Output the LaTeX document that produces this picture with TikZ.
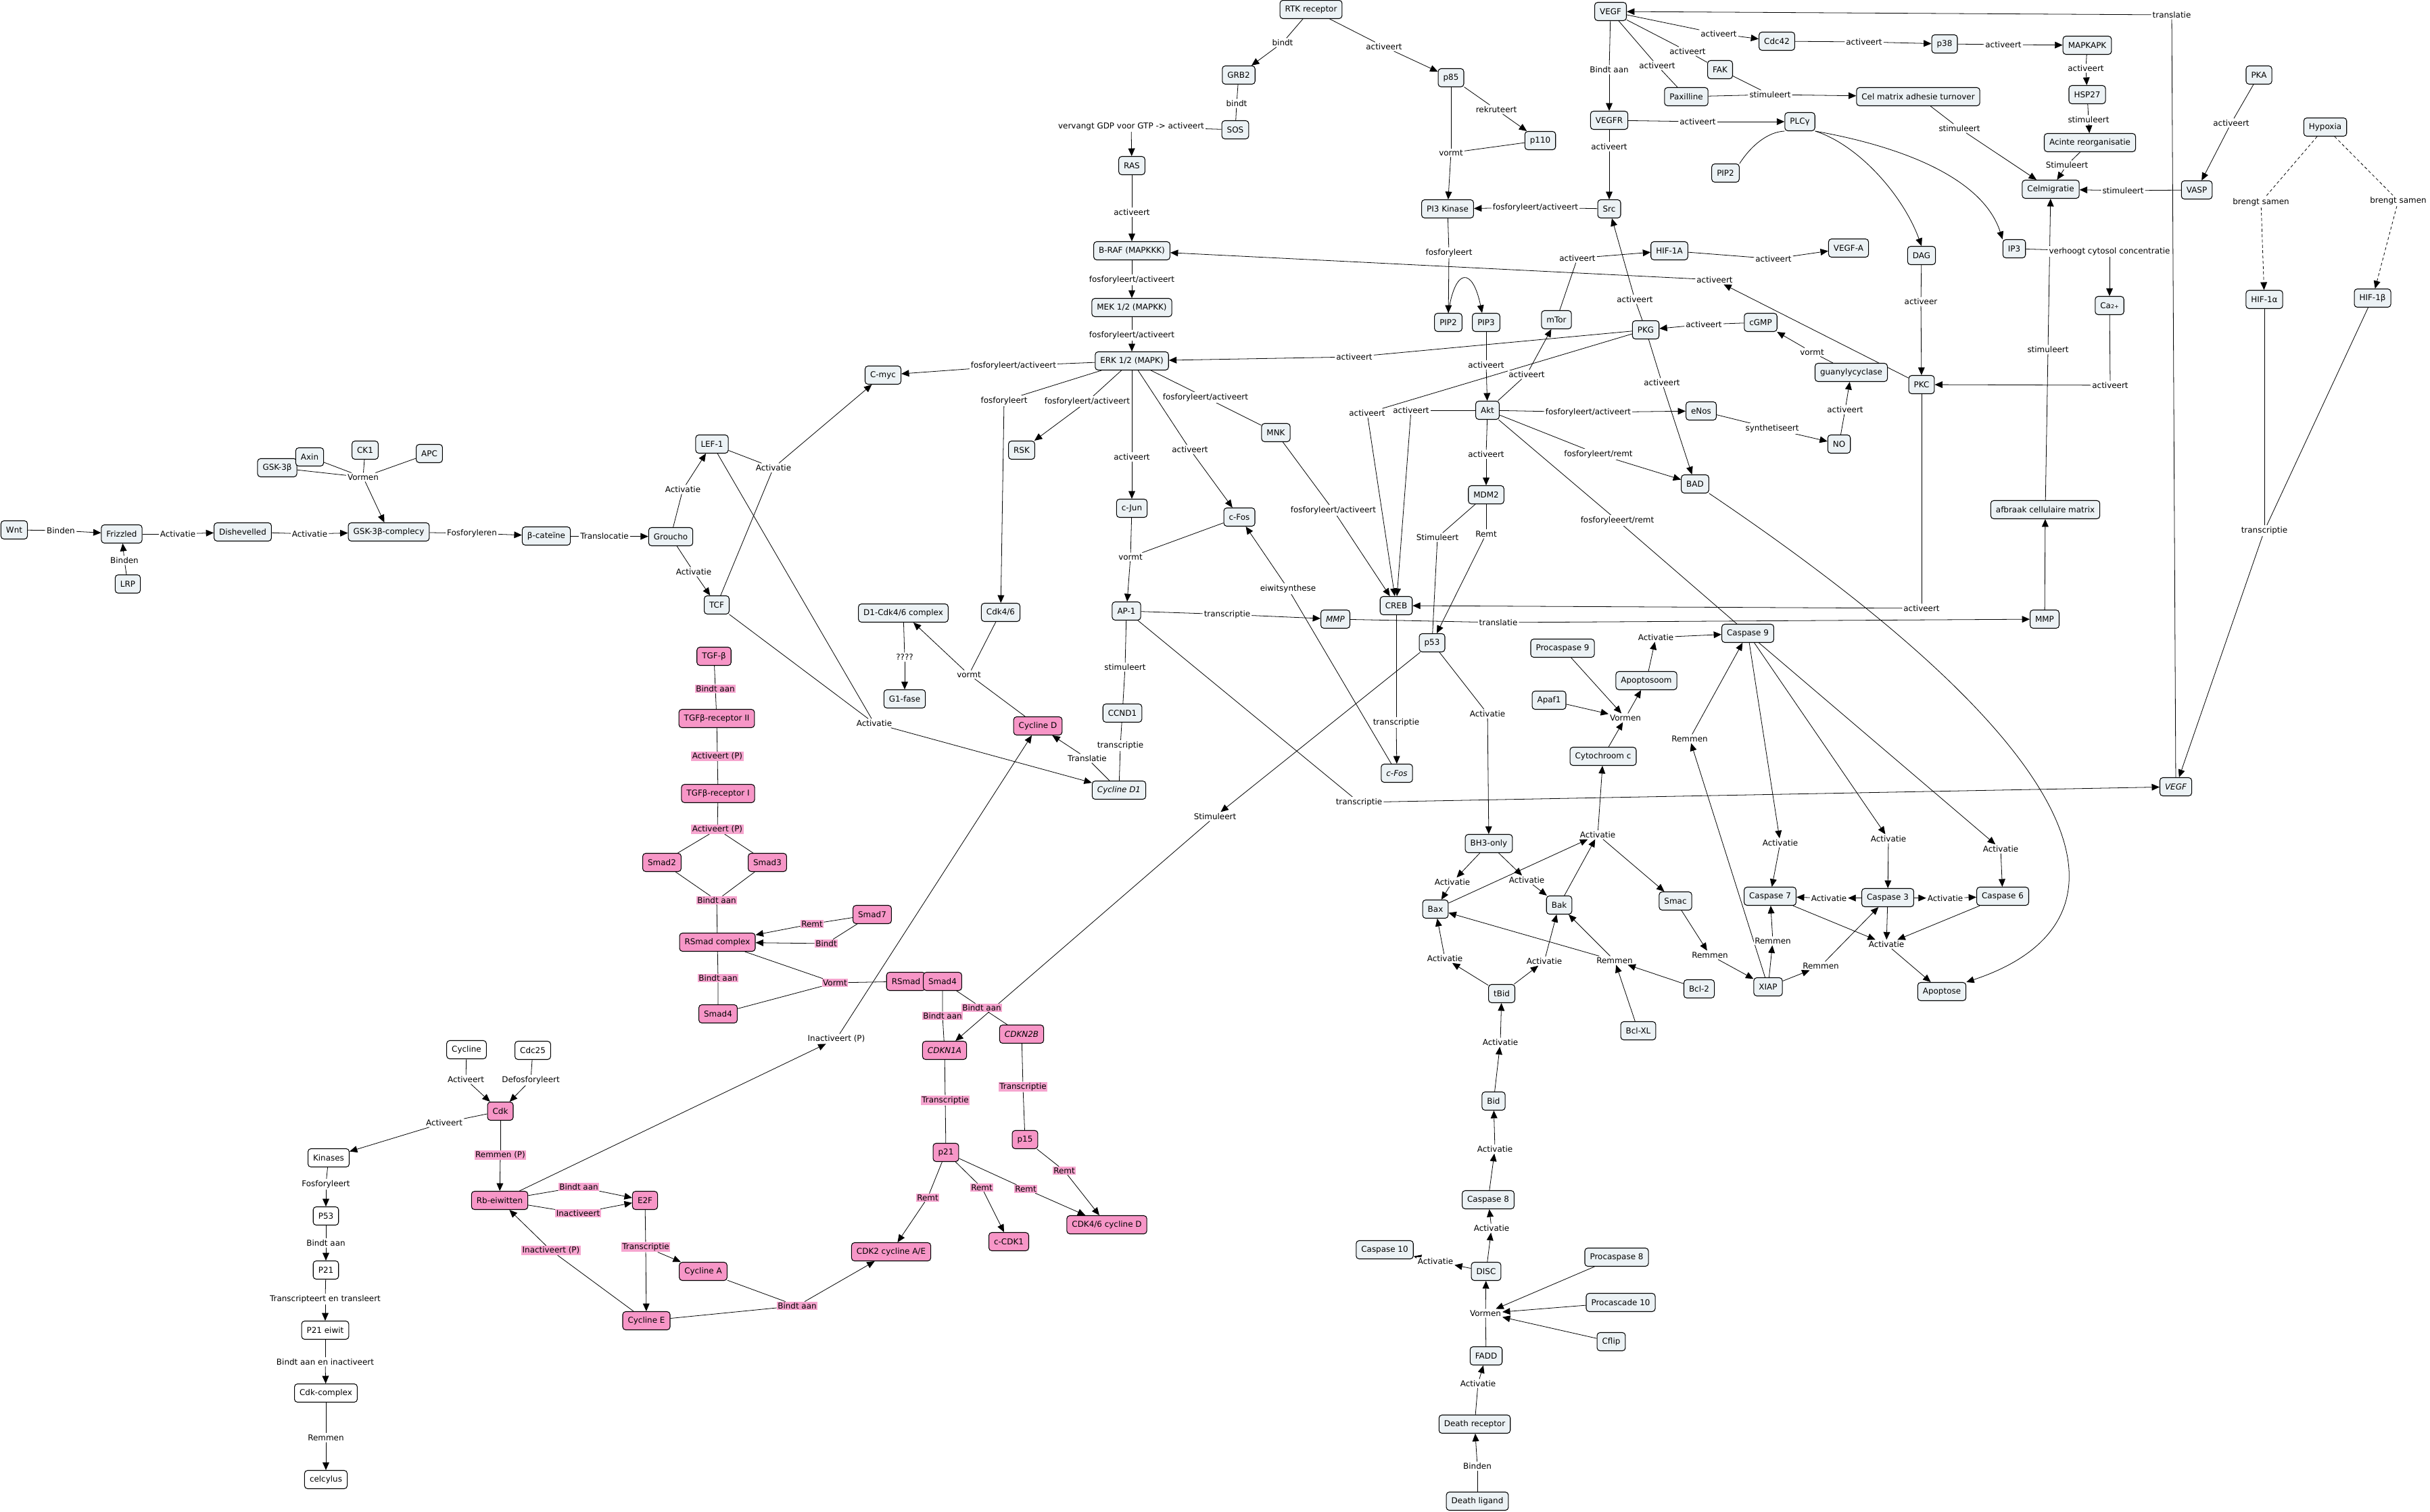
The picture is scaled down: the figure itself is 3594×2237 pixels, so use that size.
\documentclass[tikz,border=0pt]{standalone}
\usepackage{fontspec}
\setmainfont{DejaVu Sans}
\usetikzlibrary{arrows.meta, backgrounds}
\definecolor{conceptfill}{RGB}{236,242,245}
\definecolor{pinkfill}{RGB}{247,150,199}
\definecolor{pinklabel}{RGB}{246,165,207}
\begin{document}
\begin{tikzpicture}[
  x=0.02cm, y=-0.02cm,
  font=\fontsize{6.8}{8}\selectfont,
  cbox/.style={draw, line width=0.6pt, rounded corners=2.5pt, fill=conceptfill, minimum height=0.54cm, inner xsep=4.3pt, inner ysep=2pt},
  pbox/.style={cbox, fill=pinkfill},
  wbox/.style={cbox, fill=white},
  lbl/.style={fill=white, inner sep=1pt},
  plbl/.style={fill=pinklabel, inner sep=0.8pt},
  conn/.style={draw, line width=0.45pt},
  conarr/.style={conn, -{Triangle[length=6.5pt, width=5.6pt]}},
  dconn/.style={conn, dash pattern=on 2.5pt off 2pt}
]
\useasboundingbox (0,0) rectangle (3594,2237);

\node[cbox] (wnt) at (21,784) {Wnt};
\node[cbox] (frz) at (180,790) {Frizzled};
\node[cbox] (lrp) at (189,864) {LRP};
\node[cbox] (dsh) at (359,787) {Dishevelled};
\node[cbox] (gsk) at (410,692) {GSK-3β};
\node[cbox] (axin) at (458,676) {Axin};
\node[cbox] (ckone) at (540,666) {CK1};
\node[cbox] (apc) at (635,671) {APC};
\node[cbox] (gskc) at (575,787) {GSK-3β-complecy};
\node[cbox] (bcat) at (808,793) {β-cateïne};
\node[cbox] (grou) at (992,794) {Groucho};
\node[cbox] (lef) at (1053,657) {LEF-1};
\node[cbox] (tcf) at (1060,895) {TCF};
\node[cbox] (cmyc) at (1306,555) {C-myc};

\node[cbox] (rtk) at (1939,14) {RTK receptor};
\node[cbox] (grb) at (1832,111) {GRB2};
\node[cbox] (sos) at (1827,192) {SOS};
\node[cbox] (ras) at (1674,245) {RAS};
\node[cbox] (braf) at (1674,371) {B-RAF (MAPKKK)};
\node[cbox] (mek) at (1674,455) {MEK 1/2 (MAPKK)};
\node[cbox] (erk) at (1674,534) {ERK 1/2 (MAPK)};
\node[cbox] (pef) at (2146,115) {p85};
\node[cbox] (poh) at (2278,208) {p110};
\node[cbox] (pik) at (2141,309) {PI3 Kinase};
\node[cbox] (piptwo) at (2142,477) {PIP2};
\node[cbox] (pipthree) at (2198,477) {PIP3};
\node[cbox] (rsk) at (1511,666) {RSK};
\node[cbox] (mnk) at (1887,640) {MNK};
\node[cbox] (cjun) at (1674,752) {c-Jun};
\node[cbox] (cfos) at (1833,765) {c-Fos};
\node[cbox] (cdkfs) at (1480,906) {Cdk4/6};
\node[cbox] (dcdk) at (1336,907) {D1-Cdk4/6 complex};
\node[cbox] (gone) at (1338,1034) {G1-fase};
\node[cbox] (apone) at (1666,904) {AP-1};
\node[cbox] (mmpg) at (1975,916) {\textit{MMP}};
\node[cbox] (creb) at (2065,896) {CREB};
\node[cbox] (pft) at (2118,951) {p53};
\node[cbox] (ccnd) at (1660,1055) {CCND1};
\node[pbox] (cycd) at (1535,1074) {Cycline D};
\node[cbox] (cycdone) at (1655,1169) {\textit{Cycline D1}};
\node[cbox] (cfosg) at (2066,1144) {\textit{c-Fos}};

\node[cbox] (vegf) at (2382,17) {VEGF};
\node[cbox] (cdc) at (2628,61) {Cdc42};
\node[cbox] (pte) at (2876,65) {p38};
\node[cbox] (mapk) at (3087,67) {MAPKAPK};
\node[cbox] (fak) at (2544,103) {FAK};
\node[cbox] (pax) at (2494,143) {Paxilline};
\node[cbox] (cmat) at (2837,143) {Cel matrix adhesie turnover};
\node[cbox] (hsp) at (3087,140) {HSP27};
\node[cbox] (pka) at (3341,111) {PKA};
\node[cbox] (hyp) at (3439,188) {Hypoxia};
\node[cbox] (vegfr) at (2380,178) {VEGFR};
\node[cbox] (plc) at (2662,180) {PLCγ};
\node[cbox] (acin) at (3091,211) {Acinte reorganisatie};
\node[cbox] (piptwob) at (2552,256) {PIP2};
\node[cbox] (celm) at (3033,280) {Celmigratie};
\node[cbox] (vasp) at (3249,281) {VASP};
\node[cbox] (src) at (2380,309) {Src};
\node[cbox] (hif) at (2469,371) {HIF-1A};
\node[cbox] (vegfa) at (2734,367) {VEGF-A};
\node[cbox] (dag) at (2842,378) {DAG};
\node[cbox] (ipt) at (2979,368) {IP3};
\node[cbox] (hifa) at (3349,443) {HIF-1α};
\node[cbox] (hifb) at (3509,441) {HIF-1β};
\node[cbox] (ca) at (3120,452) {Ca{\fontsize{4.5}{5}\selectfont 2+}};
\node[cbox] (mtor) at (2302,473) {mTor};
\node[cbox] (pkg) at (2434,488) {PKG};
\node[cbox] (cgmp) at (2604,477) {cGMP};
\node[cbox] (guan) at (2738,551) {guanylycyclase};
\node[cbox] (pkc) at (2842,569) {PKC};
\node[cbox] (akt) at (2200,607) {Akt};
\node[cbox] (enos) at (2516,608) {eNos};
\node[cbox] (nox) at (2720,657) {NO};
\node[cbox] (bad) at (2507,716) {BAD};
\node[cbox] (mdm) at (2198,732) {MDM2};
\node[cbox] (afb) at (3025,754) {afbraak cellulaire matrix};
\node[cbox] (mmp) at (3024,916) {MMP};
\node[cbox] (vegfg) at (3218,1164) {\textit{VEGF}};

\node[cbox] (casnine) at (2585,937) {Caspase 9};
\node[cbox] (pcnine) at (2311,959) {Procaspase 9};
\node[cbox] (apsm) at (2435,1007) {Apoptosoom};
\node[cbox] (apaf) at (2291,1036) {Apaf1};
\node[cbox] (cytc) at (2371,1119) {Cytochroom c};
\node[cbox] (bh) at (2202,1248) {BH3-only};
\node[cbox] (smac) at (2478,1333) {Smac};
\node[cbox] (bax) at (2123,1345) {Bax};
\node[cbox] (bak) at (2306,1339) {Bak};
\node[cbox] (casseven) at (2618,1326) {Caspase 7};
\node[cbox] (casthree) at (2792,1328) {Caspase 3};
\node[cbox] (cassix) at (2962,1326) {Caspase 6};
\node[cbox] (xiap) at (2615,1460) {XIAP};
\node[cbox] (bcltwo) at (2513,1463) {Bcl-2};
\node[cbox] (apop) at (2872,1467) {Apoptose};
\node[cbox] (tbid) at (2221,1470) {tBid};
\node[cbox] (bclxl) at (2423,1525) {Bcl-XL};
\node[cbox] (bid) at (2209,1629) {Bid};
\node[cbox] (caseight) at (2201,1775) {Caspase 8};
\node[cbox] (caste) at (2048,1849) {Caspase 10};
\node[cbox] (disc) at (2198,1881) {DISC};
\node[cbox] (pceight) at (2391,1860) {Procaspase 8};
\node[cbox] (pcten) at (2397,1927) {Procascade 10};
\node[cbox] (cflip) at (2383,1985) {Cflip};
\node[cbox] (fadd) at (2198,2006) {FADD};
\node[cbox] (drec) at (2181,2107) {Death receptor};
\node[cbox] (dlig) at (2185,2221) {Death ligand};

\node[pbox] (tgf) at (1056,971) {TGF-β};
\node[pbox] (tgfrtwo) at (1060,1063) {TGFβ-receptor II};
\node[pbox] (tgfrone) at (1062,1174) {TGFβ-receptor I};
\node[pbox] (smadtwo) at (979,1276) {Smad2};
\node[pbox] (smadthree) at (1135,1276) {Smad3};
\node[pbox] (rsc) at (1061,1394) {RSmad complex};
\node[pbox] (smadseven) at (1290,1353) {Smad7};
\node[pbox] (smadfour) at (1062,1500) {Smad4};
\node[pbox] (rsmad) at (1340,1452) {RSmad};
\node[pbox] (smadfourb) at (1394,1452) {Smad4};
\node[pbox] (cdknb) at (1511,1530) {\textit{CDKN2B}};
\node[pbox] (cdkna) at (1397,1554) {\textit{CDKN1A}};
\node[pbox] (ptwoone) at (1399,1705) {p21};
\node[pbox] (pfift) at (1516,1686) {p15};
\node[pbox] (cdktwo) at (1318,1852) {CDK2 cycline A/E};
\node[pbox] (ccdk) at (1492,1837) {c-CDK1};
\node[pbox] (cdkfour) at (1637,1812) {CDK4/6 cycline D};

\node[wbox] (cyc) at (690,1553) {Cycline};
\node[wbox] (cdcts) at (788,1554) {Cdc25};
\node[pbox] (cdk) at (740,1644) {Cdk};
\node[wbox] (kin) at (486,1713) {Kinases};
\node[pbox] (rb) at (739,1776) {Rb-eiwitten};
\node[pbox] (etf) at (954,1776) {E2F};
\node[wbox] (pfthree) at (482,1799) {P53};
\node[wbox] (ptwo) at (482,1879) {P21};
\node[wbox] (ptwoe) at (481,1968) {P21 eiwit};
\node[wbox] (cdkc) at (482,2061) {Cdk-complex};
\node[wbox] (celc) at (482,2189) {celcylus};
\node[pbox] (cyca) at (1040,1881) {Cycline A};
\node[pbox] (cyce) at (956,1954) {Cycline E};

\node[lbl] (lbinden) at (90,785) {Binden};
\node[lbl] (lbindenb) at (184,829) {Binden};
\node[lbl] (lactdsh) at (263,790) {Activatie};
\node[lbl] (lactgsk) at (458,790) {Activatie};
\node[lbl] (lvormen) at (537,706) {Vormen};
\node[lbl] (lfosf) at (698,789) {Fosforyleren};
\node[lbl] (ltrans) at (894,793) {Translocatie};
\node[lbl] (lactlef) at (1010,724) {Activatie};
\node[lbl] (lacttcf) at (1026,846) {Activatie};
\node[lbl] (lactmyc) at (1144,692) {Activatie};
\node[lbl] (lactdone) at (1293,1070) {Activatie};

\node[lbl] (lbindt) at (1897,63) {bindt};
\node[lbl] (lactpef) at (2047,69) {activeert};
\node[lbl] (lbindtb) at (1829,153) {bindt};
\node[lbl] (lvervangt) at (1673,187) {vervangt GDP voor GTP -> activeert};
\node[lbl] (lrekr) at (2213,162) {rekruteert};
\node[lbl] (lvormt) at (2146,226) {vormt};
\node[lbl] (lactras) at (1674,314) {activeert};
\node[lbl] (lfabraf) at (1674,414) {fosforyleert/activeert};
\node[lbl] (lfamek) at (1674,496) {fosforyleert/activeert};
\node[lbl] (lfpik) at (2143,374) {fosforyleert};
\node[lbl] (lfasrc) at (2271,307) {fosforyleert/activeert};
\node[lbl] (lfamyc) at (1499,541) {fosforyleert/activeert};
\node[lbl] (lactpkgerk) at (2003,528) {activeert};
\node[lbl] (lfcdk) at (1485,593) {fosforyleert};
\node[lbl] (lfarsk) at (1608,594) {fosforyleert/activeert};
\node[lbl] (lactjun) at (1674,676) {activeert};
\node[lbl] (lactfos) at (1760,665) {activeert};
\node[lbl] (lfamnk) at (1783,588) {fosforyleert/activeert};
\node[lbl] (lactakt) at (2198,540) {activeert};
\node[lbl] (lactcreba) at (2022,611) {activeert};
\node[lbl] (lactcrebb) at (2087,607) {activeert};
\node[lbl] (lactmdm) at (2198,672) {activeert};
\node[lbl] (lfacreb) at (1972,755) {fosforyleert/activeert};
\node[lbl] (lstimp) at (2126,795) {Stimuleert};
\node[lbl] (lremt) at (2198,790) {Remt};
\node[lbl] (lvormtap) at (1672,824) {vormt};
\node[lbl] (leiwit) at (1905,871) {eiwitsynthese};
\node[lbl] (ltransmmp) at (1815,909) {transcriptie};
\node[lbl] (lquest) at (1338,972) {????};
\node[lbl] (lvormtd) at (1433,998) {vormt};
\node[lbl] (lstimccnd) at (1664,987) {stimuleert};
\node[lbl] (ltransccnd) at (1657,1103) {transcriptie};
\node[lbl] (ltranslatie) at (1608,1122) {Translatie};
\node[lbl] (ltranscfos) at (2065,1069) {transcriptie};
\node[lbl] (ltransvegf) at (2010,1187) {transcriptie};
\node[lbl] (lstimcdkn) at (1797,1208) {Stimuleert};
\node[lbl] (lfremt) at (2364,672) {fosforyleert/remt};
\node[lbl] (lfremtb) at (2392,770) {fosforyleeert/remt};
\node[lbl] (lactpkc) at (2842,900) {activeert};
\node[lbl] (ltranslmmp) at (2216,921) {translatie};
\node[lbl] (lactbh) at (2200,1056) {Activatie};

\node[lbl] (ltranslvegf) at (3212,22) {translatie};
\node[lbl] (lactcdc) at (2542,50) {activeert};
\node[lbl] (lactpte) at (2757,62) {activeert};
\node[lbl] (lactmapk) at (2963,66) {activeert};
\node[lbl] (lactfak) at (2496,76) {activeert};
\node[lbl] (lactpax) at (2451,97) {activeert};
\node[lbl] (lbindtaan) at (2380,103) {Bindt aan};
\node[lbl] (lstimcmat) at (2618,140) {stimuleert};
\node[lbl] (lacthsp) at (3085,101) {activeert};
\node[lbl] (lstimacin) at (3089,177) {stimuleert};
\node[lbl] (lstimcelm) at (3057,244) {Stimuleert};
\node[lbl] (lstimvasp) at (3140,282) {stimuleert};
\node[lbl] (lstimcm) at (2898,190) {stimuleert};
\node[lbl] (lactpka) at (3300,182) {activeert};
\node[lbl] (lbrengta) at (3344,299) {brengt samen};
\node[lbl] (lbrengtb) at (3547,297) {brengt samen};
\node[lbl] (lactplc) at (2511,180) {activeert};
\node[lbl] (lactsrc) at (2380,217) {activeert};
\node[lbl] (lacthif) at (2333,382) {activeert};
\node[lbl] (lactvegfa) at (2623,383) {activeert};
\node[lbl] (lverhoogt) at (3120,372) {verhoogt cytosol concentratie};
\node[lbl] (lactbraf) at (2536,414) {activeert};
\node[lbl] (lactdag) at (2841,446) {activeer};
\node[lbl] (lactpkgsrc) at (2418,443) {activeert};
\node[lbl] (lactcgmp) at (2520,480) {activeert};
\node[lbl] (lvormtcg) at (2680,521) {vormt};
\node[lbl] (lactca) at (3121,570) {activeert};
\node[lbl] (lstimafb) at (3029,517) {stimuleert};
\node[lbl] (lactmtor) at (2258,554) {activeert};
\node[lbl] (lactbad) at (2458,566) {activeert};
\node[lbl] (lfaenos) at (2349,610) {fosforyleert/activeert};
\node[lbl] (lsynth) at (2621,634) {synthetiseert};
\node[lbl] (lactno) at (2729,606) {activeert};
\node[lbl] (ltranshif) at (3349,785) {transcriptie};

\node[lbl] (lactapo) at (2449,943) {Activatie};
\node[lbl] (lvormenap) at (2404,1062) {Vormen};
\node[lbl] (lremcnine) at (2499,1093) {Remmen};
\node[lbl] (lactcyt) at (2363,1235) {Activatie};
\node[lbl] (lactcseven) at (2633,1247) {Activatie};
\node[lbl] (lactcthree) at (2793,1241) {Activatie};
\node[lbl] (lactcsix) at (2959,1256) {Activatie};
\node[lbl] (lactbax) at (2148,1305) {Activatie};
\node[lbl] (lactbak) at (2258,1302) {Activatie};
\node[lbl] (lactcsa) at (2705,1329) {Activatie};
\node[lbl] (lactcsb) at (2877,1329) {Activatie};
\node[lbl] (lactapop) at (2790,1397) {Activatie};
\node[lbl] (lremcseven) at (2622,1392) {Remmen};
\node[lbl] (lremxiap) at (2529,1413) {Remmen};
\node[lbl] (lacttbax) at (2137,1418) {Activatie};
\node[lbl] (lacttbak) at (2284,1422) {Activatie};
\node[lbl] (lrembcl) at (2388,1421) {Remmen};
\node[lbl] (lremcthree) at (2693,1429) {Remmen};
\node[lbl] (lactbid) at (2219,1542) {Activatie};
\node[lbl] (lactceight) at (2211,1700) {Activatie};
\node[lbl] (lactdisc) at (2206,1817) {Activatie};
\node[lbl] (lactcten) at (2123,1866) {Activatie};
\node[lbl] (lvormendisc) at (2197,1943) {Vormen};
\node[lbl] (lactfadd) at (2186,2047) {Activatie};
\node[lbl] (lbindendr) at (2185,2169) {Binden};

\node[plbl] (lbatgf) at (1058,1019) {Bindt aan};
\node[plbl] (lapa) at (1061,1119) {Activeert (P)};
\node[plbl] (lapb) at (1061,1227) {Activeert (P)};
\node[plbl] (lbasmad) at (1060,1332) {Bindt aan};
\node[plbl] (lremtsm) at (1201,1367) {Remt};
\node[plbl] (lbindtsm) at (1222,1396) {Bindt};
\node[plbl] (lbarsc) at (1062,1447) {Bindt aan};
\node[plbl] (lvormtsm) at (1235,1454) {Vormt};
\node[plbl] (lbacdkna) at (1394,1503) {Bindt aan};
\node[plbl] (lbacdknb) at (1452,1491) {Bindt aan};
\node[plbl] (ltrcdkna) at (1398,1628) {Transcriptie};
\node[plbl] (ltrcdknb) at (1513,1608) {Transcriptie};
\node[plbl] (lremtpf) at (1574,1732) {Remt};
\node[plbl] (lremtcdktwo) at (1372,1772) {Remt};
\node[plbl] (lremtccdk) at (1452,1757) {Remt};
\node[plbl] (lremtcdkfour) at (1517,1759) {Remt};
\node[lbl] (linactp) at (1237,1537) {Inactiveert (P)};

\node[lbl] (lactcyc) at (689,1597) {Activeert};
\node[lbl] (ldefos) at (785,1598) {Defosforyleert};
\node[lbl] (lactkin) at (657,1661) {Activeert};
\node[plbl] (lremp) at (740,1709) {Remmen (P)};
\node[plbl] (lbarb) at (856,1756) {Bindt aan};
\node[plbl] (linact) at (855,1795) {Inactiveert};
\node[lbl] (lfosp) at (482,1752) {Fosforyleert};
\node[lbl] (lbap) at (482,1839) {Bindt aan};
\node[lbl] (ltranscr) at (481,1922) {Transcripteert en transleert};
\node[lbl] (lbainact) at (481,2015) {Bindt aan en inactiveert};
\node[lbl] (lremcel) at (482,2127) {Remmen};
\node[plbl] (linactpb) at (815,1850) {Inactiveert (P)};
\node[plbl] (ltretf) at (955,1845) {Transcriptie};
\node[plbl] (lbacdk) at (1179,1932) {Bindt aan};

\begin{scope}[on background layer]
\draw[conn] (wnt) -- (lbinden) edge[conarr] (frz);
\draw[conn] (lrp) -- (lbindenb) edge[conarr] (frz);
\draw[conn] (frz) -- (lactdsh) edge[conarr] (dsh);
\draw[conn] (dsh) -- (lactgsk) edge[conarr] (gskc);
\foreach \s in {gsk,axin,ckone,apc} \draw[conn] (\s) -- (lvormen);
\draw[conarr] (lvormen) -- (gskc);
\draw[conn] (gskc) -- (lfosf) edge[conarr] (bcat);
\draw[conn] (bcat) -- (ltrans) edge[conarr] (grou);
\draw[conn] (grou) -- (lactlef) edge[conarr] (lef);
\draw[conn] (grou) -- (lacttcf) edge[conarr] (tcf);
\draw[conn] (lef) -- (lactmyc) edge[conarr] (cmyc);
\draw[conn] (tcf) -- (lactmyc);
\draw[conn] (lef) -- (lactdone) edge[conarr] (cycdone);
\draw[conn] (tcf) -- (lactdone);

\draw[conn] (rtk) -- (lbindt) edge[conarr] (grb);
\draw[conn] (rtk) -- (lactpef) edge[conarr] (pef);
\draw[conn] (grb) -- (lbindtb) -- (sos);
\draw[conn] (sos) -- (lvervangt) edge[conarr] (ras);
\draw[conn] (pef) -- (lrekr) edge[conarr] (poh);
\draw[conn] (pef) -- (lvormt) edge[conarr] (pik);
\draw[conn] (poh) -- (lvormt);
\draw[conn] (ras) -- (lactras) edge[conarr] (braf);
\draw[conn] (braf) -- (lfabraf) edge[conarr] (mek);
\draw[conn] (mek) -- (lfamek) edge[conarr] (erk);
\draw[conn] (pik) -- (lfpik) edge[conarr] (piptwo);
\draw[conarr] (piptwo.north) .. controls (2152,395) and (2178,395) .. ([xshift=-0.12cm]pipthree.north);
\draw[conn] (src) -- (lfasrc) edge[conarr] (pik);
\draw[conn] (erk) -- (lfamyc) edge[conarr] (cmyc);
\draw[conn] (pkg) -- (lactpkgerk) edge[conarr] (erk);
\draw[conn] (erk) -- (lfcdk) edge[conarr] (cdkfs);
\draw[conn] (erk) -- (lfarsk) edge[conarr] (rsk);
\draw[conn] (erk) -- (lactjun) edge[conarr] (cjun);
\draw[conn] (erk) -- (lactfos) edge[conarr] (cfos);
\draw[conn] (erk) -- (lfamnk) -- (mnk);
\draw[conn] (pipthree) -- (lactakt) edge[conarr] (akt);
\draw[conn] (pkg) -- (lactcreba) edge[conarr] (creb);
\draw[conn] (akt) -- (lactcrebb) edge[conarr] (creb);
\draw[conn] (akt) -- (lactmdm) edge[conarr] (mdm);
\draw[conn] (mnk) -- (lfacreb) edge[conarr] (creb);
\draw[conn] (mdm) -- (lstimp) -- (pft);
\draw[conn] (mdm) -- (lremt) edge[conarr] (pft);
\draw[conn] (cjun) -- (lvormtap) edge[conarr] (apone);
\draw[conn] (cfos) -- (lvormtap);
\draw[conn] (cfosg) -- (leiwit) edge[conarr] (cfos);
\draw[conn] (apone) -- (ltransmmp) edge[conarr] (mmpg);
\draw[conn] (cdkfs) -- (lvormtd) edge[conarr] (dcdk);
\draw[conn] (cycd) -- (lvormtd);
\draw[conn] (dcdk) -- (lquest) edge[conarr] (gone);
\draw[conn] (apone) -- (lstimccnd) -- (ccnd);
\draw[conn] (ccnd) -- (ltransccnd) -- (cycdone);
\draw[conn] (cycdone) -- (ltranslatie) edge[conarr] (cycd);
\draw[conn] (creb) -- (ltranscfos) edge[conarr] (cfosg);
\draw[conn] (apone) -- (ltransvegf) edge[conarr] (vegfg);
\draw[conarr] (pft) -- (lstimcdkn) edge (cdkna);
\draw[conn] (akt) -- (lfremt) edge[conarr] (bad);
\draw[conn] (akt) -- (lfremtb) -- (casnine);
\draw[conn] (pkc) -- (lactpkc) edge[conarr] (creb);
\draw[conn] (mmpg) -- (ltranslmmp) edge[conarr] (mmp);
\draw[conn] (pft) -- (lactbh) edge[conarr] (bh);

\draw[conn] (vegfg) -- (ltranslvegf) edge[conarr] (vegf);
\draw[conn] (vegf) -- (lactcdc) edge[conarr] (cdc);
\draw[conn] (cdc) -- (lactpte) edge[conarr] (pte);
\draw[conn] (pte) -- (lactmapk) edge[conarr] (mapk);
\draw[conn] (vegf) -- (lactfak) -- (fak);
\draw[conn] (vegf) -- (lactpax) -- (pax);
\draw[conn] (vegf) -- (lbindtaan) edge[conarr] (vegfr);
\draw[conn] (fak) -- (lstimcmat) edge[conarr] (cmat);
\draw[conn] (pax) -- (lstimcmat);
\draw[conn] (mapk) -- (lacthsp) edge[conarr] (hsp);
\draw[conn] (hsp) -- (lstimacin) edge[conarr] (acin);
\draw[conn] (acin) -- (lstimcelm) edge[conarr] (celm);
\draw[conn] (vasp) -- (lstimvasp) edge[conarr] (celm);
\draw[conn] (cmat) -- (lstimcm) edge[conarr] (celm);
\draw[conn] (pka) -- (lactpka) edge[conarr] (vasp);
\draw[dconn] (hyp) -- (lbrengta) edge[conarr] (hifa);
\draw[dconn] (hyp) -- (lbrengtb) edge[conarr] (hifb);
\draw[conn] (vegfr) -- (lactplc) edge[conarr] (plc);
\draw[conn] (vegfr) -- (lactsrc) edge[conarr] (src);
\draw[conn] (mtor) -- (lacthif) edge[conarr] (hif);
\draw[conn] (hif) -- (lactvegfa) edge[conarr] (vegfa);
\draw[conn] (ipt) -- (lverhoogt) edge[conarr] (ca);
\draw[conarr] (pkc) -- (lactbraf) edge (braf);
\draw[conn] (dag) -- (lactdag) edge[conarr] (pkc);
\draw[conn] (pkg) -- (lactpkgsrc) edge[conarr] (src);
\draw[conn] (cgmp) -- (lactcgmp) edge[conarr] (pkg);
\draw[conn] (guan) -- (lvormtcg) edge[conarr] (cgmp);
\draw[conn] (ca) -- (lactca) edge[conarr] (pkc);
\draw[conn] (afb) -- (lstimafb) edge[conarr] (celm);
\draw[conarr] (mmp) -- (afb);
\draw[conn] (akt) -- (lactmtor) edge[conarr] (mtor);
\draw[conn] (pkg) -- (lactbad) edge[conarr] (bad);
\draw[conn] (akt) -- (lfaenos) edge[conarr] (enos);
\draw[conn] (enos) -- (lsynth) edge[conarr] (nox);
\draw[conn] (nox) -- (lactno) edge[conarr] (guan);
\draw[conn] (hifa) -- (ltranshif) edge[conarr] (vegfg);
\draw[conn] (hifb) -- (ltranshif);
\draw[conn] (piptwob.north east) .. controls (2590,215) and (2615,195) .. (plc.south west);
\draw[conarr] (plc.south east) .. controls (2750,215) and (2815,290) .. (dag.north);
\draw[conarr] (plc.south east) .. controls (2830,220) and (2935,270) .. (ipt.north west);

\foreach \s in {pcnine,apaf,cytc} \draw[conarr] (\s) -- (lvormenap);
\draw[conarr] (lvormenap) -- (apsm);
\draw[conarr] (apsm) -- (lactapo) edge (casnine);
\draw[conarr] (xiap) -- (lremcnine) edge (casnine);
\draw[conarr] (bax) -- (lactcyt) edge (cytc) edge (smac);
\draw[conarr] (bak) -- (lactcyt);
\draw[conarr] (casnine) -- (lactcseven) edge (casseven);
\draw[conarr] (casnine) -- (lactcthree) edge (casthree);
\draw[conarr] (casnine) -- (lactcsix) edge (cassix);
\draw[conarr] (bh) -- (lactbax) edge (bax);
\draw[conarr] (bh) -- (lactbak) edge (bak);
\draw[conarr] (casthree) -- (lactcsa) edge (casseven);
\draw[conarr] (casthree) -- (lactcsb) edge (cassix);
\foreach \s in {casseven,casthree,cassix} \draw[conarr] (\s) -- (lactapop);
\draw[conarr] (lactapop) -- (apop);
\draw[conarr] (xiap) -- (lremcseven) edge (casseven);
\draw[conarr] (smac) -- (lremxiap) edge (xiap);
\draw[conarr] (tbid) -- (lacttbax) edge (bax);
\draw[conarr] (tbid) -- (lacttbak) edge (bak);
\draw[conarr] (bcltwo) -- (lrembcl) edge (bax) edge (bak);
\draw[conarr] (bclxl) -- (lrembcl);
\draw[conarr] (xiap) -- (lremcthree) edge (casthree);
\draw[conarr] (bid) -- (lactbid) edge (tbid);
\draw[conarr] (caseight) -- (lactceight) edge (bid);
\draw[conarr] (disc) -- (lactdisc) edge (caseight);
\draw[conarr] (disc) -- (lactcten) edge (caste);
\draw[conn] (fadd) -- (lvormendisc) edge[conarr] (disc);
\foreach \s in {pceight,pcten,cflip} \draw[conarr] (\s) -- (lvormendisc);
\draw[conn] (drec) -- (lactfadd) edge[conarr] (fadd);
\draw[conn] (dlig) -- (lbindendr) edge[conarr] (drec);
\draw[conarr] (bad.south east) .. controls (3180,1170) and (3130,1380) .. (apop.north east);

\draw[conn] (tgf) -- (lbatgf) -- (tgfrtwo);
\draw[conn] (tgfrtwo) -- (lapa) -- (tgfrone);
\draw[conn] (tgfrone) -- (lapb) edge (smadtwo) edge (smadthree);
\draw[conn] (smadtwo) -- (lbasmad) -- (rsc);
\draw[conn] (smadthree) -- (lbasmad);
\draw[conn] (smadseven) -- (lremtsm) edge[conarr] (rsc);
\draw[conn] (smadseven) -- (lbindtsm) edge[conarr] (rsc);
\draw[conn] (rsc) -- (lbarsc) -- (smadfour);
\draw[conn] (rsc) -- (lvormtsm) -- (rsmad);
\draw[conn] (smadfour) -- (lvormtsm);
\draw[conn] (smadfourb) -- (lbacdkna) -- (cdkna);
\draw[conn] (smadfourb) -- (lbacdknb) -- (cdknb);
\draw[conn] (cdkna) -- (ltrcdkna) -- (ptwoone);
\draw[conn] (cdknb) -- (ltrcdknb) -- (pfift);
\draw[conn] (ptwoone) -- (lremtcdktwo) edge[conarr] (cdktwo);
\draw[conn] (ptwoone) -- (lremtccdk) edge[conarr] (ccdk);
\draw[conn] (ptwoone) -- (lremtcdkfour) edge[conarr] (cdkfour);
\draw[conn] (pfift) -- (lremtpf) edge[conarr] (cdkfour);
\draw[conarr] (rb) -- (linactp) edge (cycd);

\draw[conn] (cyc) -- (lactcyc) edge[conarr] (cdk);
\draw[conn] (cdcts) -- (ldefos) edge[conarr] (cdk);
\draw[conn] (cdk) -- (lactkin) edge[conarr] (kin);
\draw[conn] (cdk) -- (lremp) edge[conarr] (rb);
\draw[conn] (rb) -- (lbarb) edge[conarr] (etf);
\draw[conn] (rb) -- (linact) edge[conarr] (etf);
\draw[conn] (kin) -- (lfosp) edge[conarr] (pfthree);
\draw[conn] (pfthree) -- (lbap) edge[conarr] (ptwo);
\draw[conn] (ptwo) -- (ltranscr) edge[conarr] (ptwoe);
\draw[conn] (ptwoe) -- (lbainact) edge[conarr] (cdkc);
\draw[conn] (cdkc) -- (lremcel) edge[conarr] (celc);
\draw[conn] (cyce) -- (linactpb) edge[conarr] (rb);
\draw[conn] (etf) -- (ltretf) edge[conarr] (cyca) edge[conarr] (cyce);
\draw[conn] (cyca) -- (lbacdk) edge[conarr] (cdktwo);
\draw[conn] (cyce) -- (lbacdk);
\end{scope}
\end{tikzpicture}
\end{document}
